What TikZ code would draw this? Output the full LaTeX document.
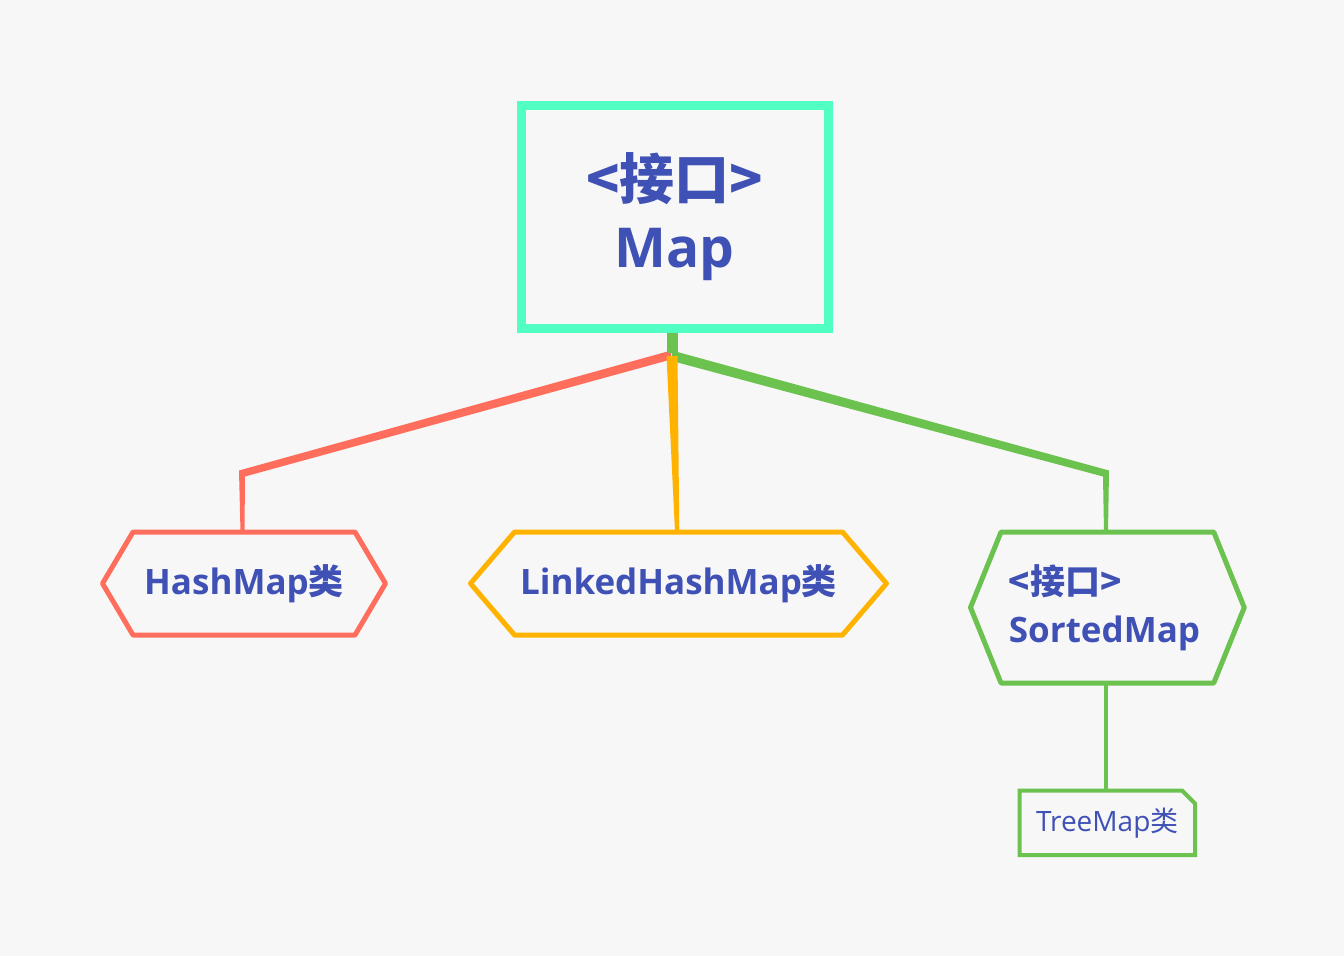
\documentclass[tikz,border=0pt]{standalone}
\usepackage{fontspec}
\setmainfont{Open Sans}
\newfontfamily\cjk{Noto Sans CJK SC}
\usetikzlibrary{calc}
\definecolor{bgc}{HTML}{F7F7F7}
\definecolor{aqua}{HTML}{52FFC2}
\definecolor{tred}{HTML}{FF6E5C}
\definecolor{tyel}{HTML}{FFB300}
\definecolor{tgrn}{HTML}{6CC24F}
\definecolor{txt}{HTML}{3F51B5}
\pgfdeclarelayer{bgl}
\pgfsetlayers{bgl,main}
\newcommand\hexaround[3]{%
  \draw[#3, line width=5pt, line join=round]
    (#1.west) -- ($(#1.north west)+(#2,0)$) -- ($(#1.north east)+(-#2,0)$)
    -- (#1.east) -- ($(#1.south east)+(-#2,0)$) -- ($(#1.south west)+(#2,0)$) -- cycle;}
\begin{document}
\begin{tikzpicture}[x=1pt,y=-1pt,
  hexbox/.style={draw=none, inner sep=0pt, outer sep=0pt, text=txt,
    font=\fontsize{35}{48}\selectfont\bfseries},
  mapbox/.style={draw=aqua, line width=9pt, inner sep=0pt, outer sep=0pt,
    minimum width=307pt, minimum height=223pt, text=txt, align=center,
    font=\fontsize{55}{72}\selectfont\bfseries},
  treebox/.style={draw=none, inner sep=0pt, outer sep=0pt, text=txt,
    minimum width=175.5pt, minimum height=64.5pt, font=\fontsize{28}{34}\selectfont}]
\useasboundingbox (0,0) rectangle (1344,956);

\node[mapbox] (map) at (674.5,216.5) {{\cjk <接口>}\\[-4pt]Map};
\node[hexbox, minimum width=283pt, minimum height=103pt] (hash) at (244,583.5) {HashMap{\cjk 类}};
\node[hexbox, minimum width=416pt, minimum height=103pt] (link) at (678.5,583.5) {LinkedHashMap{\cjk 类}};
\node[hexbox, minimum width=273.5pt, minimum height=151pt, align=left] (sorted) at (1104.5,607.5) {{\cjk <接口>}\\SortedMap};
\node[treebox] (tree) at (1107.25,822.75) {TreeMap{\cjk 类}};

\coordinate (j) at (672,355);
\coordinate (rb) at ($(hash.north |- 0,473)+(-2,0)$);
\coordinate (gb) at (1106,473);

\begin{pgfonlayer}{bgl}
\fill[bgc] (0,0) rectangle (1344,956);
% red connector
\fill[tred] ($(j)+(-1,-4.5)$) -- ($(j)+(-1,4.5)$) -- ($(rb)+(3,3.5)$) -- ($(hash.north)+(0.5,0)$)
  -- ($(hash.north)+(-3.5,0)$) -- ($(rb)+(-3,-2.5)$) -- cycle;
% green connector
\fill[tgrn] ($(j)+(0,-4.5)$) -- ($(gb)+(3,-2.5)$) -- ($(gb |- sorted.north)+(2,0)$)
  -- ($(gb |- sorted.north)+(-2,0)$) -- ($(gb)+(-3,3.5)$) -- ($(j)+(0,6)$) -- cycle;
% yellow connector
\fill[tyel] ($(j)+(-5.5,1)$) -- ($(j)+(5.5,1)$) -- ($(link.north)+(0.8,0)$) -- ($(link.north)+(-3.5,0)$) -- cycle;
% green stub
\fill[tgrn] ($(map.south)+(-8,-2)$) rectangle ($(map.south)+(3,25)$);
% sorted to tree
\draw[tgrn, line width=3.5pt] (gb |- sorted.south) -- (gb |- tree.north);
\end{pgfonlayer}

\hexaround{hash}{30.5}{tred}
\hexaround{link}{44}{tyel}
\draw[tgrn, line width=5pt, line join=round]
  (1107.25,607.5) ++(-136.75,0) -- ++(30.5,-75.5) -- ++(212.75,0) -- ++(30.5,75.5)
  -- ++(-30.5,75.5) -- ++(-212.75,0) -- cycle;
\draw[tgrn, line width=4pt, line join=miter]
  (tree.north west) -- ($(tree.north east)+(-13,0)$) -- ($(tree.north east)+(0,13)$)
  -- (tree.south east) -- (tree.south west) -- cycle;
\end{tikzpicture}
\end{document}
